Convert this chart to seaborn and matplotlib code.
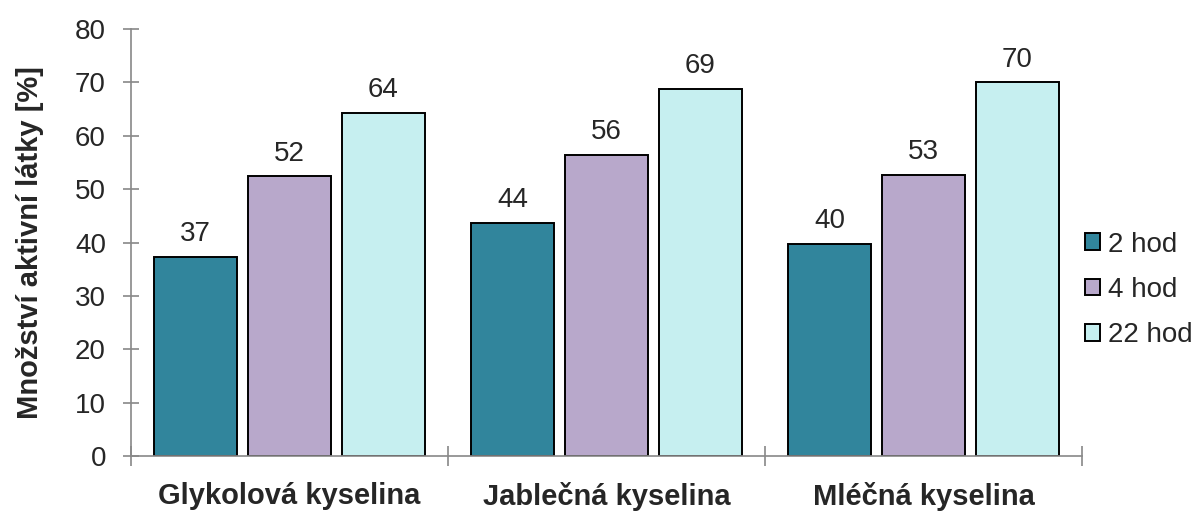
import matplotlib
matplotlib.use("Agg")
import matplotlib.pyplot as plt
import seaborn as sns
import pandas as pd
from matplotlib.ticker import FixedLocator

categories = ["Glykolová kyselina", "Jablečná kyselina", "Mléčná kyselina"]
series_names = ["2 hod", "4 hod", "22 hod"]
values_2h = [37.3, 43.7, 39.8]
values_4h = [52.4, 56.4, 52.7]
values_22h = [64.3, 68.8, 70.0]
colors = ["#31859C", "#B8A8CB", "#C6EFF0"]
ylabel = "Množství aktivní látky [%]"

rows = []
for s, vals in zip(series_names, [values_2h, values_4h, values_22h]):
    for c, v in zip(categories, vals):
        rows.append({"cat": c, "series": s, "val": v})
df = pd.DataFrame(rows)

sns.set_style("white")
plt.rcParams["font.family"] = ["Liberation Sans", "DejaVu Sans"]

fig = plt.figure(figsize=(11.96, 5.11), dpi=100)
ax = fig.add_axes([131/1196, 1-456/511, (1082-131)/1196, (456-29)/511])

sns.barplot(data=df, x="cat", y="val", hue="series", order=categories,
            hue_order=series_names, palette=colors, width=0.89, gap=0.12,
            edgecolor="black", linewidth=1.4, errorbar=None, ax=ax, saturation=1)

for cont in ax.containers:
    ax.bar_label(cont, fmt="%.0f", padding=7, fontsize=20)

ax.set_xlim(-0.5, 2.5)
ax.set_ylim(0, 80)
ax.set_yticks(range(0, 81, 10))
ax.tick_params(axis="y", labelsize=20, direction="inout", length=12, width=1.2,
               color="#888888", left=True, pad=12)
ax.tick_params(axis="x", which="major", length=0, labelsize=21, pad=19)
ax.xaxis.set_minor_locator(FixedLocator([-0.5, 0.5, 1.5, 2.5]))
ax.tick_params(axis="x", which="minor", direction="inout", length=14, width=1.2,
               color="#888888", bottom=True)
for lbl in ax.get_xticklabels():
    lbl.set_fontweight("bold")
ax.set_xlabel("")
ax.set_ylabel(ylabel, fontsize=21, fontweight="bold", labelpad=22)

for side in ["top", "right"]:
    ax.spines[side].set_visible(False)
for side in ["left", "bottom"]:
    ax.spines[side].set_color("#888888")
    ax.spines[side].set_linewidth(1.2)

handles, labels = ax.get_legend_handles_labels()
ax.legend(handles, labels, loc="center left", bbox_to_anchor=(1085/1196, 1-290/511),
          bbox_transform=fig.transFigure, frameon=False, fontsize=20,
          handlelength=0.54, handleheight=0.54, handletextpad=0.3, labelspacing=0.7,
          borderaxespad=0, borderpad=0)

fig.savefig("out.png", dpi=100)
